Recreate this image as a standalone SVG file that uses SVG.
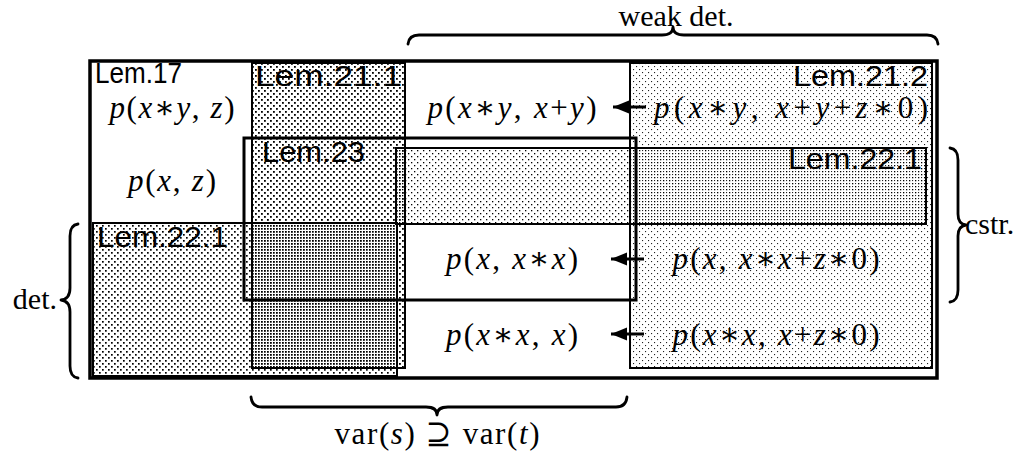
<svg xmlns="http://www.w3.org/2000/svg" width="1026" height="452" viewBox="0 0 1026 452">
<style>
.lem{font-family:"Liberation Sans",Arial,sans-serif;font-size:29px;fill:#000}
.m{font-family:"Liberation Serif","DejaVu Serif",serif;font-size:31px;fill:#000}
.i{font-style:italic}
.lbl{font-family:"Liberation Serif","Times New Roman",serif;font-size:30px;fill:#000}
.box{stroke:#000;stroke-width:2}
.brace{fill:none;stroke:#000;stroke-width:2.8;stroke-linecap:round;stroke-linejoin:round}
.arrow{stroke:#000;stroke-width:3;fill:none}
</style>
<defs>
<pattern id="pA" width="6" height="6" patternUnits="userSpaceOnUse"><rect x="0" y="0" width="1.8" height="1.8"/><rect x="3" y="3" width="1.8" height="1.8"/></pattern>
<pattern id="pB" width="6" height="6" patternUnits="userSpaceOnUse"><rect x="3" y="0" width="1.7" height="1.7"/><rect x="0" y="3" width="1.7" height="1.7"/></pattern>
<pattern id="pC" width="6" height="6" patternUnits="userSpaceOnUse"><rect x="3" y="0" width="1.3" height="1.3"/><rect x="0" y="3" width="1.3" height="1.3"/></pattern>
<pattern id="pL" width="6" height="6" patternUnits="userSpaceOnUse"><rect x="0" y="0" width="1.1" height="1.1" fill="#222"/><rect x="3" y="3" width="1.1" height="1.1" fill="#222"/></pattern>
<marker id="ah" markerWidth="18" markerHeight="14" refX="16" refY="6.5" orient="auto" markerUnits="userSpaceOnUse"><path d="M0,0 L16,6.5 L0,13 Z" fill="#000"/></marker>
</defs>
<rect width="1026" height="452" fill="#fff"/>

<g id="lem17">
<rect x="90" y="61" width="847" height="317" fill="none" stroke="#000" stroke-width="3.5"/>
<text class="lem" x="95" y="83" textLength="87" lengthAdjust="spacingAndGlyphs">Lem.17</text>
</g>

<g id="lem21-2">
<rect class="box" x="630" y="63" width="302" height="305" fill="url(#pL)"/>
<text class="lem" x="793" y="86" textLength="135" lengthAdjust="spacingAndGlyphs">Lem.21.2</text>
</g>

<g id="lem22-1-top">
<rect class="box" x="396" y="148" width="530" height="76" fill="url(#pC)"/>
<text class="lem" x="788" y="169" textLength="134" lengthAdjust="spacingAndGlyphs">Lem.22.1</text>
</g>

<g id="lem21-1">
<rect class="box" x="252" y="63" width="153" height="305" fill="url(#pA)"/>
<text class="lem" x="255" y="86" textLength="147" lengthAdjust="spacingAndGlyphs">Lem.21.1</text>
</g>

<g id="lem22-1-bottom">
<rect class="box" x="93" y="223" width="304" height="153" fill="url(#pB)"/>
<text class="lem" x="97" y="247" textLength="131" lengthAdjust="spacingAndGlyphs">Lem.22.1</text>
</g>

<g id="lem23">
<rect x="244" y="138" width="392" height="162" fill="none" stroke="#000" stroke-width="3"/>
<text class="lem" x="262" y="162" textLength="103" lengthAdjust="spacingAndGlyphs">Lem.23</text>
</g>

<g id="cells">
<text class="m" x="172" y="118" text-anchor="middle" textLength="125" lengthAdjust="spacing"><tspan class="i">p</tspan>(<tspan class="i">x</tspan>∗<tspan class="i">y</tspan>, <tspan class="i">z</tspan>)</text>
<text class="m" x="172" y="191" text-anchor="middle" textLength="88" lengthAdjust="spacing"><tspan class="i">p</tspan>(<tspan class="i">x</tspan>, <tspan class="i">z</tspan>)</text>
<text class="m" x="512" y="118" text-anchor="middle" textLength="169" lengthAdjust="spacing"><tspan class="i">p</tspan>(<tspan class="i">x</tspan>∗<tspan class="i">y</tspan>, <tspan class="i">x</tspan>+<tspan class="i">y</tspan>)</text>
<text class="m" x="512" y="269" text-anchor="middle" textLength="132" lengthAdjust="spacing"><tspan class="i">p</tspan>(<tspan class="i">x</tspan>, <tspan class="i">x</tspan>∗<tspan class="i">x</tspan>)</text>
<text class="m" x="512" y="345" text-anchor="middle" textLength="132" lengthAdjust="spacing"><tspan class="i">p</tspan>(<tspan class="i">x</tspan>∗<tspan class="i">x</tspan>, <tspan class="i">x</tspan>)</text>
<text class="m" x="791" y="118" text-anchor="middle" textLength="274" lengthAdjust="spacing"><tspan class="i">p</tspan>(<tspan class="i">x</tspan>∗<tspan class="i">y</tspan>, <tspan class="i">x</tspan>+<tspan class="i">y</tspan>+<tspan class="i">z</tspan>∗0)</text>
<text class="m" x="776" y="269" text-anchor="middle" textLength="207" lengthAdjust="spacing"><tspan class="i">p</tspan>(<tspan class="i">x</tspan>, <tspan class="i">x</tspan>∗<tspan class="i">x</tspan>+<tspan class="i">z</tspan>∗0)</text>
<text class="m" x="776" y="345" text-anchor="middle" textLength="207" lengthAdjust="spacing"><tspan class="i">p</tspan>(<tspan class="i">x</tspan>∗<tspan class="i">x</tspan>, <tspan class="i">x</tspan>+<tspan class="i">z</tspan>∗0)</text>
</g>

<g id="connectors">
<path class="arrow" d="M646,107 L613,107" marker-end="url(#ah)"/>
<path class="arrow" d="M644,259 L611,259" marker-end="url(#ah)"/>
<path class="arrow" d="M644,334 L611,334" marker-end="url(#ah)"/>
</g>

<g id="braces">
<path class="brace" stroke-width="3.2" d="M408,44 Q409,35 419,35 L662,35 Q673,35 673,27 Q673,35 684,35 L927,35 Q937,35 938,44"/>
<text class="lbl" x="676" y="26" text-anchor="middle">weak det.</text>
<path class="brace" stroke-width="3.2" d="M251,397 Q252,407 262,407 L426,407 Q437,407 437,415 Q437,407 448,407 L616,407 Q626,407 627,397"/>
<text class="m" x="437" y="444" text-anchor="middle" textLength="205" lengthAdjust="spacing">var(<tspan class="i">s</tspan>) ⊇ var(<tspan class="i">t</tspan>)</text>
<path class="brace" d="M78,224 Q70,225 70,236 L70,288 Q70,299 61,300 Q70,301 70,312 L70,366 Q70,377 78,378"/>
<text class="lbl" x="57" y="309" text-anchor="end">det.</text>
<path class="brace" d="M950,148 Q958,149 958,160 L958,214 Q958,224 966,225 Q958,226 958,236 L958,290 Q958,301 950,302"/>
<text class="lbl" x="965" y="234">cstr.</text>
</g>
</svg>
